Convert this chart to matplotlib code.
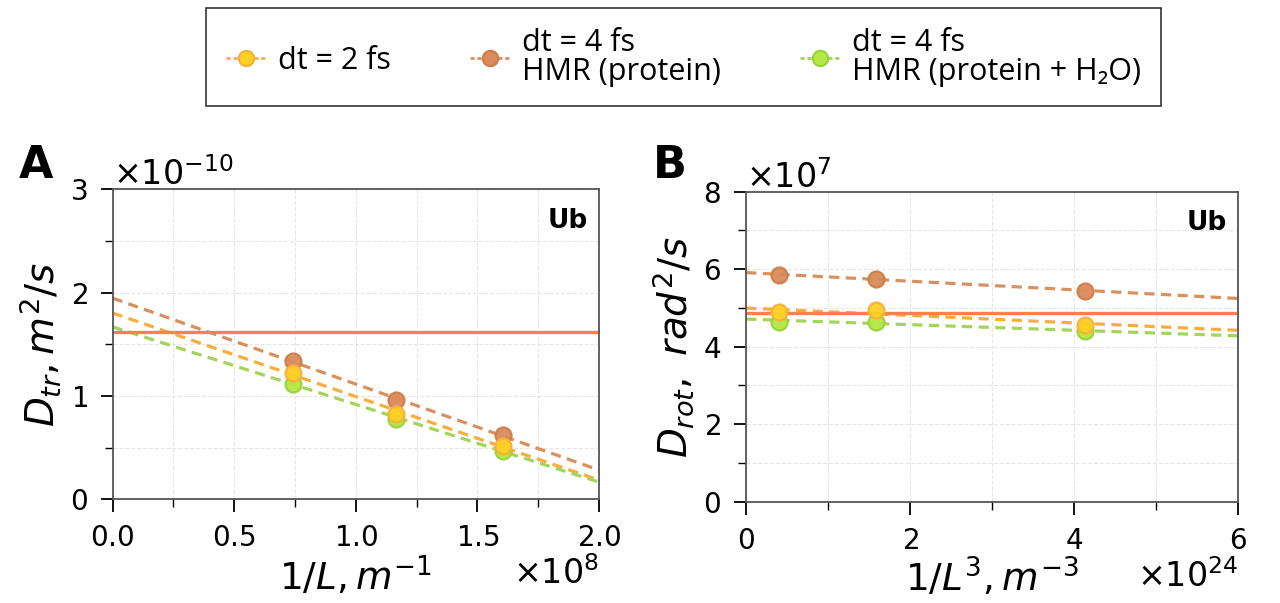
import numpy as np
import matplotlib
matplotlib.use("Agg")
import matplotlib.pyplot as plt
from matplotlib.ticker import MultipleLocator, ScalarFormatter
from matplotlib.lines import Line2D

# values
labels = ["dt = 2 fs", "dt = 4 fs\nHMR (protein)", "dt = 4 fs\nHMR (protein + H\u2082O)"]
face_colors = ["#FFD024", "#D98B5B", "#B4E842"]
edge_colors = ["#F7B23B", "#CF7E48", "#9BD23A"]
line_colors = ["#F7AE3C", "#D9905F", "#A5D45A"]

# panel A: translational diffusion vs 1/L
inv_L = np.array([0.74e8, 1.165e8, 1.605e8])
D_tr = {
    "dt2": np.array([1.22e-10, 0.83e-10, 0.52e-10]),
    "hmr_prot": np.array([1.34e-10, 0.96e-10, 0.62e-10]),
    "hmr_all": np.array([1.12e-10, 0.78e-10, 0.47e-10]),
}
D_tr_ref = 1.62e-10

# panel B: rotational diffusion vs 1/L^3
inv_L3 = np.array([0.40e24, 1.585e24, 4.13e24])
D_rot = {
    "dt2": np.array([4.89e7, 4.95e7, 4.57e7]),
    "hmr_prot": np.array([5.86e7, 5.75e7, 5.45e7]),
    "hmr_all": np.array([4.65e7, 4.65e7, 4.40e7]),
}
D_rot_ref = 4.88e7

keys = ["dt2", "hmr_prot", "hmr_all"]

plt.rcParams["font.family"] = "DejaVu Sans"
plt.rcParams["mathtext.fontset"] = "dejavusans"

fig = plt.figure(figsize=(12.8, 6.03), dpi=100)
axA = fig.add_axes([0.088, 0.172, 0.380, 0.514])
axB = fig.add_axes([0.583, 0.168, 0.384, 0.514])


def draw(ax, x, ys, ref, xmax):
    xf = np.array([0, xmax])
    for i, key in enumerate(keys):
        k, b = np.polyfit(x, ys[key], 1)
        ax.plot(xf, k * xf + b, color=line_colors[i], lw=2.3, dashes=(3.2, 2.0), zorder=2)
    # brown first, then green, yellow on top
    for key in ["hmr_prot", "hmr_all", "dt2"]:
        j = keys.index(key)
        ax.plot(x, ys[key], "o", ms=11.5, mfc=face_colors[j], mec=edge_colors[j], mew=1.6,
                alpha=0.95, zorder=3)
    ax.axhline(ref, color="#FF7F4F", lw=2.4, zorder=2.5)
    ax.set_xlim(0, xmax)
    ax.grid(True, which="both", ls="--", lw=0.8, color="#e6e6e6")
    ax.tick_params(which="major", direction="out", length=9, width=1.3, labelsize=20, pad=9)
    ax.tick_params(which="minor", direction="out", length=6, width=1.0)
    for s in ax.spines.values():
        s.set_color("#555555")
        s.set_linewidth(1.3)
    for axis in (ax.xaxis, ax.yaxis):
        fmt = ScalarFormatter(useMathText=True)
        axis.set_major_formatter(fmt)
        axis.get_offset_text().set_fontsize(24)
    ax.text(0.977, 0.94, "Ub", transform=ax.transAxes, ha="right", va="top",
            fontsize=19, fontweight="bold")


draw(axA, inv_L, D_tr, D_tr_ref, 2e8)
axA.set_ylim(0, 3e-10)
axA.xaxis.set_major_locator(MultipleLocator(0.5e8))
axA.xaxis.set_minor_locator(MultipleLocator(0.25e8))
axA.yaxis.set_major_locator(MultipleLocator(1e-10))
axA.yaxis.set_minor_locator(MultipleLocator(0.5e-10))
axA.set_xlabel(r"$1/L, m^{-1}$", fontsize=27, labelpad=1)
axA.set_ylabel(r"$D_{tr}, m^2/s$", fontsize=28, labelpad=5)

draw(axB, inv_L3, D_rot, D_rot_ref, 6e24)
axB.set_ylim(0, 8e7)
axB.xaxis.set_major_locator(MultipleLocator(2e24))
axB.xaxis.set_minor_locator(MultipleLocator(1e24))
axB.yaxis.set_major_locator(MultipleLocator(2e7))
axB.yaxis.set_minor_locator(MultipleLocator(1e7))
axB.set_xlabel(r"$1/L^3, m^{-3}$", fontsize=27, labelpad=1)
axB.set_ylabel(r"$D_{rot},\ rad^2/s$", fontsize=28, labelpad=5)

fig.text(0.015, 0.705, "A", fontsize=32, fontweight="bold")
fig.text(0.51, 0.705, "B", fontsize=32, fontweight="bold")

handles = [Line2D([0], [0], color=line_colors[i], lw=2.0, dashes=(1.5, 1.0),
                  marker="o", ms=11, mfc=face_colors[i], mec=edge_colors[i], mew=1.6)
           for i in range(3)]
leg = fig.legend(handles, labels, loc="upper center", bbox_to_anchor=(0.534, 0.987),
                 borderaxespad=0, ncol=3, fancybox=False, edgecolor="black",
                 handlelength=1.3, columnspacing=2.6, borderpad=0.65, handletextpad=0.4,
                 prop={"family": ["Open Sans", "DejaVu Sans"], "size": 22})
leg.get_frame().set_linewidth(1.2)
for t in leg.get_texts():
    t.set_linespacing(0.95)

fig.savefig("out.png", dpi=100)
